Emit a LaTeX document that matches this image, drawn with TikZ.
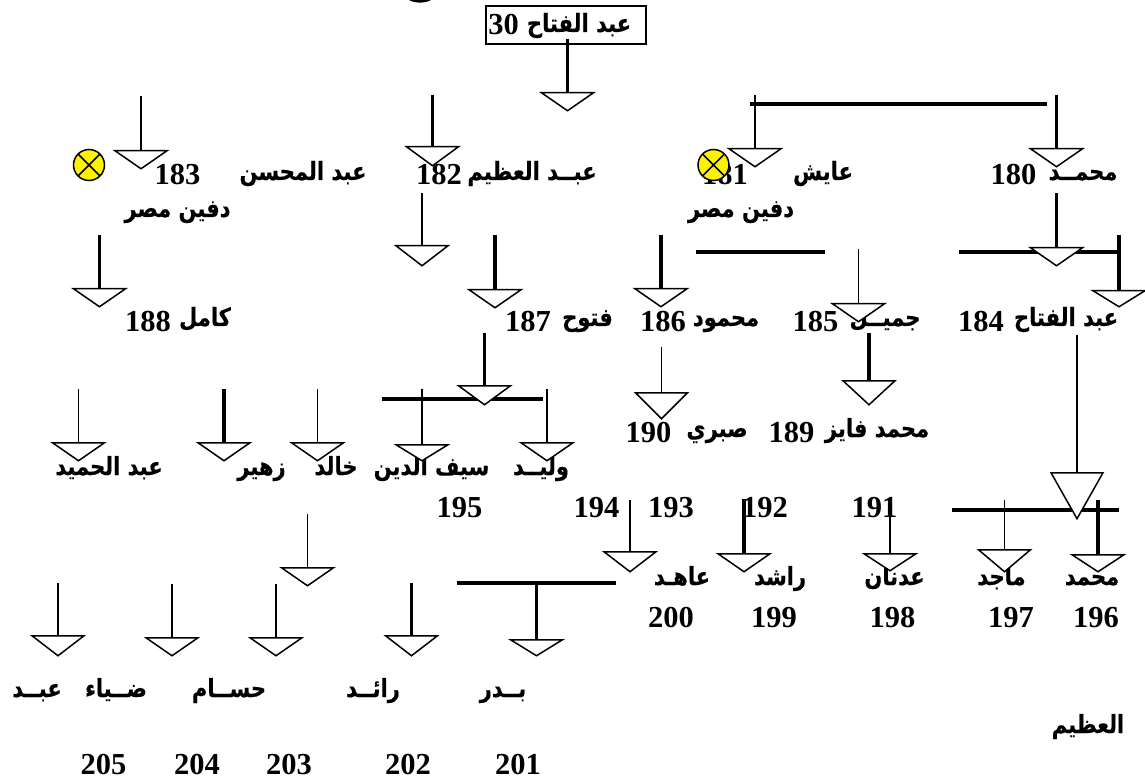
\documentclass[tikz,border=0pt]{standalone}
\usepackage{fontspec}
\usetikzlibrary{shapes.geometric}
\TeXXeTstate=1
\setmainfont{Liberation Serif}
\newfontfamily\arabicfont[Script=Arabic,FakeStretch=0.84,FakeBold=0.4]{DejaVu Sans}

\tikzset{
  num/.style={font=\fontsize{30.5}{32}\selectfont\bfseries,anchor=base,yshift=-10pt},
  word/.style={font=\fontsize{25}{28}\selectfont\arabicfont\bfseries,anchor=base,yshift=-5pt},
  kin/.style={shape=isosceles triangle,shape border rotate=270,isosceles triangle stretches,
    draw,fill=white,line width=1.5pt,inner sep=0pt,minimum width=52pt,minimum height=18pt,anchor=lower side},
  grave/.style={circle,draw,fill=yellow,line width=1.5pt,inner sep=0pt,minimum size=31pt,
    path picture={\draw[line width=1.5pt] (path picture bounding box.north west) -- (path picture bounding box.south east)
      (path picture bounding box.north east) -- (path picture bounding box.south west);}},
  bar/.style={line width=4pt}
}
\newcommand{\ar}[1]{\beginR #1\endR}

\begin{document}
\begin{tikzpicture}
  [x=1pt,y=-1pt,every node/.style={inner sep=0pt}]
  \useasboundingbox (0,0) rectangle (1145,783);
  \fill (409,0) .. controls (415,3.5) and (425,3.5) .. (431,0) -- cycle;

  % generations, right to left
  \node[draw,line width=2pt,minimum width=160pt,minimum height=38pt] (root) at (566,25) {};
  \node[num] (n30) at (503.5,25) {30};
  \node[word] (w30) at (579,27) {\ar{عبد الفتاح}};

  \node[num] (n180) at (1013.5,175) {180};
  \node[word] (w180) at (1083,175) {\ar{محمــد}};
  \node[num] (n181) at (725,175) {181};
  \node[word] (w181) at (823,175) {\ar{عايش}};
  \node[word] (b181) at (741,212) {\ar{دفين مصر}};
  \node[num] (n182) at (439,175) {182};
  \node[word] (w182) at (532,175) {\ar{عبــد العظيم}};
  \node[num] (n183) at (177.5,175) {183};
  \node[word] (w183) at (303,175) {\ar{عبد المحسن}};
  \node[word] (b183) at (177.5,212) {\ar{دفين مصر}};

  \node[num] (n184) at (981,321) {184};
  \node[word] (w184) at (1066,321) {\ar{عبد الفتاح}};
  \node[num] (n185) at (815.5,321) {185};
  \node[word] (w185) at (885,321) {\ar{جميــل}};
  \node[num] (n186) at (663,321) {186};
  \node[word] (w186) at (726,321) {\ar{محمود}};
  \node[num] (n187) at (528,321) {187};
  \node[word] (w187) at (587.5,321) {\ar{فتوح}};
  \node[num] (n188) at (148,321) {188};
  \node[word] (w188) at (205,321) {\ar{كامل}};

  \node[num] (n189) at (791.5,432) {189};
  \node[word] (w189) at (877,432) {\ar{محمد فايز}};
  \node[num] (n190) at (648.5,432) {190};
  \node[word] (w190) at (717,432) {\ar{صبري}};

  \node[word] (w195) at (541,470) {\ar{وليــد}};
  \node[word] (w194) at (431.5,470) {\ar{سيف الدين}};
  \node[word] (w193) at (336,470) {\ar{خالد}};
  \node[word] (w192) at (261.5,470) {\ar{زهير}};
  \node[word] (w191) at (109,470) {\ar{عبد الحميد}};
  \node[num] (n195) at (459.5,507) {195};
  \node[num] (n194) at (596.5,507) {194};
  \node[num] (n193) at (671,507) {193};
  \node[num] (n192) at (765,507) {192};
  \node[num] (n191) at (874.5,507) {191};

  \node[word] (w196) at (1092,580) {\ar{محمد}};
  \node[word] (w197) at (1001.5,580) {\ar{ماجد}};
  \node[word] (w198) at (894.5,580) {\ar{عدنان}};
  \node[word] (w199) at (780,580) {\ar{راشد}};
  \node[word] (w200) at (682,580) {\ar{عاهـد}};
  \node[num] (n196) at (1096,617) {196};
  \node[num] (n197) at (1011,617) {197};
  \node[num] (n198) at (892.5,617) {198};
  \node[num] (n199) at (774,617) {199};
  \node[num] (n200) at (671,617) {200};

  \node[word] (w201) at (503,692) {\ar{بــدر}};
  \node[word] (w202) at (373,692) {\ar{رائــد}};
  \node[word] (w203) at (229,692) {\ar{حســام}};
  \node[word] (w204) at (116,692) {\ar{ضــياء}};
  \node[word] (w205) at (37,692) {\ar{عبــد}};
  \node[word] (w206) at (1088,728) {\ar{العظيم}};
  \node[num] (n201) at (518,764) {201};
  \node[num] (n202) at (408,764) {202};
  \node[num] (n203) at (289,764) {203};
  \node[num] (n204) at (197,764) {204};
  \node[num] (n205) at (103.5,764) {205};

  % bars between brothers
  \draw[bar] (749.5,104) -- (1047,104);
  \draw[bar] (958.5,252) -- (1118,252);
  \draw[bar] (695.5,252) -- (825,252);
  \draw[bar] (382,399) -- (542.5,399);
  \draw[bar] (952,510) -- (1119,510);
  \draw[bar] (456.5,583) -- (616,583);

  % line tops
  \coordinate (a1) at (567.5,39);
  \coordinate (a2) at (1056.5,95);
  \coordinate (a3) at (755,95);
  \coordinate (a4) at (432.5,95);
  \coordinate (a5) at (141,96);
  \coordinate (a6) at (1056.5,193);
  \coordinate (a7) at (858.5,249);
  \coordinate (a8) at (1119,235);
  \coordinate (a9) at (661,235);
  \coordinate (a10) at (495,235);
  \coordinate (a11) at (99.5,235);
  \coordinate (a12) at (422,193);
  \coordinate (a13) at (869,333);
  \coordinate (a14) at (661.5,347);
  \coordinate (a15) at (484.5,333);
  \coordinate (a16) at (547,389);
  \coordinate (a17) at (422,389);
  \coordinate (a18) at (317.5,389);
  \coordinate (a19) at (224,389);
  \coordinate (a20) at (78.5,389);
  \coordinate (a21) at (1077,335);
  \coordinate (a22) at (1098,500);
  \coordinate (a23) at (1004.5,500);
  \coordinate (a24) at (890,500);
  \coordinate (a25) at (744,499);
  \coordinate (a26) at (630,500);
  \coordinate (a27) at (536.5,583);
  \coordinate (a28) at (411.5,583);
  \coordinate (a29) at (307.5,514);
  \coordinate (a30) at (276,584);
  \coordinate (a31) at (172,584);
  \coordinate (a32) at (58,583);

  % children
  \node[kin] (k1) at (567.5,92) {};
  \node[kin] (k2) at (1056.5,148) {};
  \node[kin] (k3) at (755,148) {};
  \node[kin,minimum height=19pt] (k4) at (432.5,146) {};
  \node[kin] (k5) at (141,150) {};
  \node[kin] (k6) at (1056.5,247) {};
  \node[kin] (k7) at (858.5,303) {};
  \node[kin,minimum height=16pt] (k8) at (1119,290) {};
  \node[kin] (k9) at (661,288) {};
  \node[kin] (k10) at (495,289) {};
  \node[kin] (k11) at (99.5,288) {};
  \node[kin,minimum height=20pt] (k12) at (422,245) {};
  \node[kin,minimum height=24pt] (k13) at (869,380) {};
  \node[kin,minimum height=26pt] (k14) at (661.5,392) {};
  \node[kin,minimum height=19pt] (k15) at (484.5,385) {};
  \node[kin] (k16) at (547,442) {};
  \node[kin,minimum height=16pt] (k17) at (422,444) {};
  \node[kin] (k18) at (317.5,442) {};
  \node[kin] (k19) at (224,442) {};
  \node[kin] (k20) at (78.5,442) {};
  \node[kin,minimum height=46pt] (k21) at (1077,472) {};
  \node[kin,minimum height=17pt] (k22) at (1098,554) {};
  \node[kin,minimum height=22pt] (k23) at (1004.5,549) {};
  \node[kin,minimum height=17pt] (k24) at (890,553) {};
  \node[kin] (k25) at (744,553) {};
  \node[kin,minimum height=20pt] (k26) at (630,551) {};
  \node[kin,minimum height=16pt] (k27) at (536.5,639) {};
  \node[kin,minimum height=20pt] (k28) at (411.5,635) {};
  \node[kin] (k29) at (307.5,567) {};
  \node[kin] (k30) at (276,637) {};
  \node[kin] (k31) at (172,637) {};
  \node[kin,minimum height=20pt] (k32) at (58,635) {};

  \node[grave] (g183) at (89,165) {};
  \node[grave] (g181) at (713.5,165) {};

  \foreach \from/\to in {a3/k3,a7/k7,a12/k12,a14/k14,a16/k16,a17/k17,a18/k18,a20/k20,a21/k21,a23/k23,a24/k24,a26/k26,a29/k29,a30/k30,a31/k31,a32/k32,a5/k5}
    \draw[line width=1.9pt] (\from) -- (\to.lower side);
  \foreach \from/\to in {a1/k1,a2/k2,a6/k6,a11/k11,a15/k15,a28/k28,a27/k27}
    \draw[line width=2.4pt] (\from) -- (\to.lower side);
  \foreach \from/\to in {a4/k4,a8/k8,a9/k9,a10/k10,a13/k13,a19/k19,a22/k22,a25/k25}
    \draw[line width=3.2pt] (\from) -- (\to.lower side);

\end{tikzpicture}
\end{document}
